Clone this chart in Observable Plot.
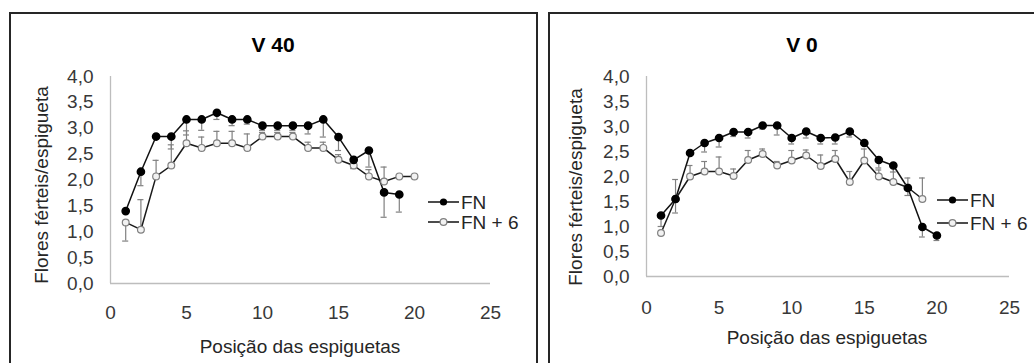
<!DOCTYPE html>
<html><head><meta charset="utf-8">
<script src="https://cdn.jsdelivr.net/npm/d3@7"></script>
<script src="https://cdn.jsdelivr.net/npm/@observablehq/plot@0.6"></script>
<style>
body{margin:0;background:#fff;width:1034px;height:363px;position:relative;overflow:hidden;font-family:"Liberation Sans",Arial,sans-serif;}
.panel{position:absolute;border:2px solid #262626;box-sizing:border-box;}
.chart{position:absolute;top:0;}
.title{position:absolute;font-weight:bold;font-size:21px;transform:translate(-50%,-50%);color:#000;white-space:nowrap}
.xlab{position:absolute;font-size:19px;transform:translate(-50%,-50%);color:#262626;white-space:nowrap}
.ylab{position:absolute;font-size:19px;transform:translate(-50%,-50%) rotate(-90deg);white-space:nowrap;color:#262626}
.legend{position:absolute;top:0;left:0;}
</style>
</head><body>
<div class="panel" style="left:9px;top:12px;width:529px;height:400px"></div>
<div class="panel" style="left:548px;top:12px;width:500px;height:400px"></div>
<div id="c1" class="chart" style="left:0px"></div>
<div id="c2" class="chart" style="left:540px"></div>
<div class="title" style="left:273px;top:45px">V 40</div>
<div class="title" style="left:802px;top:45px">V 0</div>
<div class="ylab" style="left:42px;top:185px">Flores férteis/espigueta</div>
<div class="ylab" style="left:576px;top:187px">Flores férteis/espigueta</div>
<div class="xlab" style="left:300px;top:347px">Posição das espiguetas</div>
<div class="xlab" style="left:827px;top:338px">Posição das espiguetas</div>
<svg class="legend" width="1034" height="363" id="leg"></svg>
<script>
// ---- data ----
const seriesNames = ["FN", "FN + 6"];
const titles = ["V 40", "V 0"];
const xTicks = [0, 5, 10, 15, 20, 25];
const yTicks = [0, 0.5, 1, 1.5, 2, 2.5, 3, 3.5, 4];

// V 40
const v40Pos_FN  = [1,2,3,4,5,6,7,8,9,10,11,12,13,14,15,16,17,18,19];
const v40_FN     = [1.40,2.16,2.84,2.84,3.17,3.17,3.30,3.17,3.17,3.05,3.05,3.05,3.05,3.17,2.83,2.39,2.57,1.76,1.72];
const v40_FN_err = [null,1.89,null,2.60,2.87,2.96,3.17,3.05,3.08,2.96,2.96,2.96,2.89,2.83,2.57,2.22,2.25,1.28,1.38];
const v40Pos_FN6  = [1,2,3,4,5,6,7,8,9,10,11,12,13,14,15,16,17,18,19,20];
const v40_FN6     = [1.18,1.04,2.07,2.28,2.71,2.62,2.71,2.71,2.62,2.84,2.84,2.84,2.62,2.62,2.39,2.28,2.07,1.97,2.07,2.07];
const v40_FN6_err = [0.82,1.62,2.38,2.68,2.95,2.83,2.94,2.94,2.89,2.92,2.92,2.92,2.73,2.73,2.49,2.44,2.20,2.25,null,null];

// V 0
const v0Pos_FN  = [1,2,3,4,5,6,7,8,9,10,11,12,13,14,15,16,17,18,19,20];
const v0_FN     = [1.22,1.55,2.47,2.67,2.77,2.89,2.89,3.02,3.02,2.77,2.90,2.77,2.78,2.90,2.67,2.33,2.22,1.77,0.99,0.82];
const v0_FN_err = [1.00,1.27,null,2.49,2.59,2.80,2.77,2.95,2.83,2.65,2.77,2.65,2.65,2.79,null,2.17,2.09,1.62,0.79,0.72];
const v0Pos_FN6  = [1,2,3,4,5,6,7,8,9,10,11,12,13,14,15,16,17,18,19];
const v0_FN6     = [0.87,1.55,2.00,2.10,2.10,2.01,2.33,2.45,2.22,2.32,2.42,2.21,2.35,1.89,2.32,2.00,1.89,1.78,1.55];
const v0_FN6_err = [null,1.94,2.22,2.30,2.39,2.15,2.52,2.55,2.30,2.52,2.53,2.43,2.52,2.10,2.55,2.13,2.19,1.97,1.97];

const rows = (pos, vals, errs) => vals.map((v, i) => ({x: pos[i], y: v, e: errs[i]}));
const fmt = d => d.toFixed(1).replace(".", ",");
const FONT = '"Liberation Sans", Arial, sans-serif';

function chart(fn, fn6, o) {
  const errs = fn.concat(fn6).filter(d => d.e != null);
  return Plot.plot({
    width: o.width, height: 363,
    marginLeft: o.ml, marginRight: o.mr, marginTop: o.mt, marginBottom: o.mb,
    x: {domain: [0, 25], label: null},
    y: {domain: [0, 4], label: null},
    style: {fontFamily: FONT, fontSize: "19px", color: "#383838", background: "transparent", overflow: "visible"},
    marks: [
      Plot.ruleX([0], {stroke: "#bdbdbd", strokeWidth: 1.3}),
      Plot.ruleY([0], {stroke: "#bdbdbd", strokeWidth: 1.3}),
      Plot.axisX({ticks: xTicks, tickSize: 0, tickPadding: o.xpad, tickFormat: d => String(d), fontSize: 19, label: null}),
      Plot.axisY({ticks: yTicks, tickSize: 0, tickPadding: 17, tickFormat: fmt, fontSize: 19, label: null}),
      Plot.ruleX(errs, {x: "x", y1: "y", y2: "e", stroke: "#808080", strokeWidth: 1.2}),
      Plot.ruleY(errs, {y: "e", x1: d => d.x - 0.2, x2: d => d.x + 0.2, stroke: "#808080", strokeWidth: 1.2}),
      Plot.line(fn6, {x: "x", y: "y", stroke: "#1a1a1a", strokeWidth: 1.5}),
      Plot.line(fn, {x: "x", y: "y", stroke: "#111", strokeWidth: 1.5}),
      Plot.dot(fn6, {x: "x", y: "y", r: 3.4, fill: "#f2f2f2", stroke: "#808080", strokeWidth: 1.2}),
      Plot.dot(fn, {x: "x", y: "y", r: 3.6, fill: "#000", stroke: "#000"})
    ]
  });
}

document.getElementById("c1").append(chart(
  rows(v40Pos_FN, v40_FN, v40_FN_err), rows(v40Pos_FN6, v40_FN6, v40_FN6_err),
  {width: 537, ml: 110, mr: 47, mt: 76, mb: 80, xpad: 22}));
document.getElementById("c2").append(chart(
  rows(v0Pos_FN, v0_FN, v0_FN_err), rows(v0Pos_FN6, v0_FN6, v0_FN6_err),
  {width: 494, ml: 106, mr: 25, mt: 76, mb: 87, xpad: 24}));

// legends
const leg = d3.select("#leg");
const legendItems = [
  {x0: 428, y: 202, i: 0}, {x0: 428, y: 222, i: 1},
  {x0: 937, y: 200, i: 0}, {x0: 937, y: 223, i: 1}
];
for (const it of legendItems) {
  leg.append("line").attr("x1", it.x0).attr("x2", it.x0 + 31).attr("y1", it.y).attr("y2", it.y)
    .attr("stroke", "#111").attr("stroke-width", 1.5);
  if (it.i === 0) leg.append("circle").attr("cx", it.x0 + 15.5).attr("cy", it.y).attr("r", 3.6).attr("fill", "#000");
  else leg.append("circle").attr("cx", it.x0 + 15.5).attr("cy", it.y).attr("r", 3.4).attr("fill", "#f2f2f2").attr("stroke", "#808080").attr("stroke-width", 1.2);
  leg.append("text").attr("x", it.x0 + 33).attr("y", it.y).attr("dy", "0.35em")
    .attr("font-family", FONT).attr("font-size", 19).attr("fill", "#262626").text(seriesNames[it.i]);
}
</script>
</body></html>
